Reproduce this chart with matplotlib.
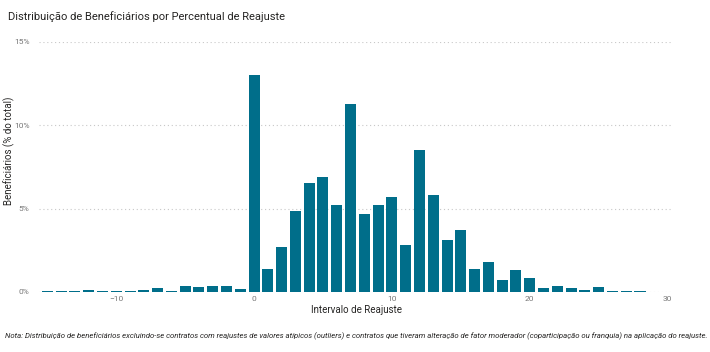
import matplotlib
matplotlib.use("Agg")
import matplotlib.pyplot as plt
from matplotlib.ticker import FuncFormatter

intervals = list(range(-15, 29))
values = [0.03, 0.03, 0.03, 0.10, 0.03, 0.03, 0.03, 0.10, 0.22, 0.08,
          0.38, 0.28, 0.38, 0.34, 0.20,
          13.0, 1.36, 2.72, 4.86, 6.53, 6.89, 5.20, 11.25, 4.66, 5.24,
          5.70, 2.82, 8.53, 5.79, 3.12, 3.72, 1.38, 1.80, 0.72, 1.32,
          0.82, 0.22, 0.34, 0.22, 0.10, 0.28, 0.03, 0.03, 0.03]
x_ticks = [-10, 0, 10, 20, 30]
y_ticks = [0, 5, 10, 15]

title = "Distribuição de Beneficiários por Percentual de Reajuste"
xlabel = "Intervalo de Reajuste"
ylabel = "Beneficiários (% do total)"
note = ("Nota: Distribuição de beneficiários excluindo-se contratos com reajustes de valores atípicos "
        "(outliers) e contratos que tiveram alteração de fator moderador (coparticipação ou franquia) "
        "na aplicação do reajuste.")

plt.rcParams['font.family'] = ['Roboto', 'DejaVu Sans']

fig = plt.figure(figsize=(7.1, 3.52), dpi=100)
ax = fig.add_axes([0.055, 0.1705, 0.893, 0.7105])

ax.bar(intervals, values, width=0.8, color="#006E8A", zorder=3)
ax.set_xlim(-15.6, 30.4)
ax.set_ylim(0, 15)
ax.set_xticks(x_ticks)
ax.set_yticks(y_ticks)
ax.yaxis.set_major_formatter(FuncFormatter(lambda v, p: f"{int(v)}%"))
ax.tick_params(axis='both', length=0, labelsize=6, colors="#777777")
ax.tick_params(axis='x', pad=3)
ax.tick_params(axis='y', pad=7)
for s in ax.spines.values():
    s.set_visible(False)
ax.grid(axis='y', linestyle=(0, (1, 2.5)), color="#C8C8C8", linewidth=0.8, zorder=0)
ax.set_axisbelow(True)

ax.set_xlabel(xlabel, fontsize=7, color="#252423", labelpad=2)
ax.set_ylabel(ylabel, fontsize=7, color="#252423")
ax.yaxis.set_label_coords(-0.038, 0.565)

fig.text(0.011, 0.968, title, fontsize=8, color="#252423", ha='left', va='top')
fig.text(0.007, 0.045, note, fontsize=5.57, color="#252423", ha='left', va='center', style='italic')

fig.savefig("out.png", dpi=100)
